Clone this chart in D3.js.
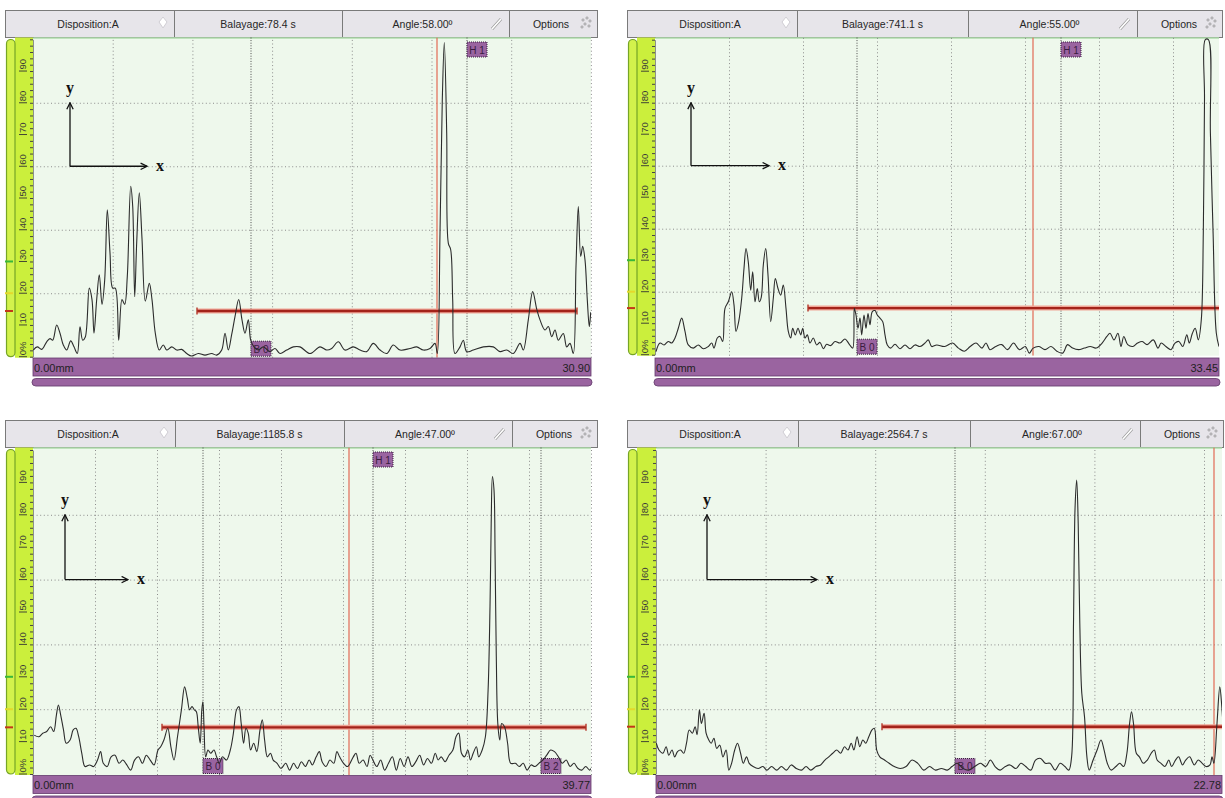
<!DOCTYPE html>
<html>
<head>
<meta charset="utf-8">
<script src="https://cdn.jsdelivr.net/npm/d3@7"></script>
<style>
  body { margin: 0; background: #fff; }
  svg { display: block; }
</style>
</head>
<body>
<script>
var headerFixed = ["Disposition:A", "Options"];
var sweeps = ["78.4 s", "741.1 s", "1185.8 s", "2564.7 s"];
var angles = ["58.00º", "55.00º", "47.00º", "67.00º"];
var ranges = ["30.90", "33.45", "39.77", "22.78"];
var ampGrid = [20, 40, 60, 80];
var ampLabels = [0, 10, 20, 30, 40, 50, 60, 70, 80, 90];
var curveMarks = [30, 20];               // green + yellow marks on the ruler
var gateLevel = [14.4, 14.8, 14.4, 14.6]; // % screen height
var gateSpan = [[164, 544], [153, 564], [129, 553], [226, 566]]; // samples
var cursorAt = [404, 378, 316, 558];
var gateMarks = [
  [["B 0", 218, "low"], ["H 1", 434, "high"]],
  [["B 0", 202, "low"], ["H 1", 406, "high"]],
  [["B 0", 170, "low"], ["H 1", 340, "high"], ["B 2", 508, "low"]],
  [["B 0", 299, "low"]]
];

// [sample, amplitude %]
var traceA = [[0.3,2.1],[4.3,3.1],[8.7,2.3],[13.7,4.7],[17,5.7],[19.7,5.2],[23.7,10],[27,7.4],[30.3,3.7],[33.7,2.1],[37.7,5],[41,3.1],[44.3,1],[47,9.4],[49.7,5.2],[52.3,6.2],[56.3,21.6],[59,18],[61,7.4],[63.7,18],[66.3,25.8],[69,16.5],[71.7,24.2],[74.3,46.3],[77,32.7],[79.7,21.6],[82.3,21.6],[85.7,5.2],[89,18],[91.7,16.5],[94.3,25.3],[97.7,53.7],[99.7,47.4],[101.7,18.9],[103.7,36],[106.3,51.6],[109,37.2],[112.3,17.5],[116.3,23.1],[119,18],[122.3,7.4],[126.3,2.1],[130.3,3.7],[133.7,2.1],[138.7,3.1],[143.7,2.1],[148.7,2.3],[153.7,1],[158.7,0.2],[165.3,1],[172,0.5],[178.7,1],[183.7,0.5],[188.7,2.1],[192,7.4],[195.3,2.1],[198.7,7],[202,12.6],[205.7,18],[209,11.6],[212,7.4],[215.3,11.6],[217.7,5.2],[221,3.1],[225.3,2.1],[230.3,3.1],[237,1.6],[242,2.6],[247,1],[253.7,2.1],[260.3,3.1],[267,3.1],[277,1],[287,3.1],[293.7,2.1],[298.7,2.6],[305.3,4.7],[312,2.1],[320.3,3.1],[327,2.1],[333.7,1.6],[340.3,4.2],[347,2.1],[353.7,1],[360.3,3.7],[367,2.1],[377,2.6],[383.7,3.1],[390.3,2.1],[397,2.6],[402,4.2],[404.3,1],[407,38.9],[409.3,81],[411.3,99],[413.7,70.5],[415.3,35.8],[417.7,33.7],[419.7,17.9],[422,1],[427,3.1],[430.3,5.2],[433.7,1.6],[440.3,2.1],[450.3,3.1],[460.3,3.1],[467,1.6],[473.7,2.1],[480.3,1],[487,4.2],[490.3,2.1],[495.3,11.6],[499.7,20.5],[503.7,15],[507,11.6],[512,8.4],[515.3,9.5],[518.7,6.3],[522,8.4],[525.3,5.2],[530.3,7.3],[533.7,3.1],[537,4.2],[540.3,1],[543,28.4],[545.3,47.3],[547.7,31.6],[549.7,34.8],[552,30.5],[554.3,17.9],[556.3,9.5],[557.7,14]];

var traceB = [[1,1],[5,3.7],[9,3.1],[13.3,4.2],[16.7,3.7],[20,5.3],[23.3,8.4],[26.7,11.6],[30,7.4],[33.3,3.1],[38.3,2.1],[43.3,3.1],[48.3,1.9],[53.3,2.6],[56.7,3.7],[59,2.1],[62.3,5.3],[65,5.8],[67.7,4.2],[70,14.7],[73.3,16.8],[76.7,20],[79,15.8],[81,7.4],[83.7,10.5],[86.7,17.9],[89,27.4],[91,33.7],[93.3,29.4],[95.7,20.5],[97.7,26.3],[100,16.8],[102.3,21],[104.3,16.8],[106.3,18.3],[108.3,28.4],[110.7,33.7],[113,25.3],[115.7,10.5],[118.3,17.9],[120.3,24.2],[123,21],[125.7,18.9],[128.3,22.1],[131,14.7],[133.3,7.4],[135.7,5.3],[137.7,8.4],[140.3,6.3],[143,8.4],[145.7,6.3],[147.7,8.4],[150,5.3],[152.3,6.3],[155,3.7],[158.3,5.3],[161.7,3.1],[165,3.9],[168.3,1.9],[171.7,3.3],[175.7,2.9],[180,4.2],[185,3.7],[190,5],[194.3,3.3],[197.7,2.1],[199.3,14.7],[201,12.6],[203,8.4],[205,11.6],[206.7,6.3],[209,12.6],[211,8.4],[213,13.1],[215,9.5],[217.3,13.7],[220,14],[222.3,12.6],[225,11.6],[227.7,10.5],[230,6.3],[232.3,3.1],[235.7,2.1],[240,3.3],[245,1.9],[250,3.1],[255,1.9],[260,3.1],[265,2.6],[270,3.7],[273.3,4.7],[276.7,2.6],[281.7,3.1],[289.6,2.6],[297.5,3.7],[303.4,2.1],[309.3,1.1],[315.2,2.6],[321.1,3.7],[327,2.1],[331,3.7],[334.9,1.6],[340.8,2.6],[346.7,3.2],[352.6,1.6],[358.5,3.7],[364.4,1.6],[370.4,2.6],[374.3,0.5],[378.2,2.1],[384.1,2.6],[390,1.6],[396,2.6],[401.9,1.1],[407.8,0.5],[412.5,3.2],[417.6,2.1],[423.5,1.6],[429.4,2.1],[435.3,2.6],[441.2,2.1],[447.1,3.7],[451.9,5.8],[455,6.8],[459,4.7],[462.9,6.8],[466,2.6],[468.8,5.8],[472.7,3.2],[477.8,2.6],[482.6,3.7],[487.3,4.2],[492.1,3.2],[498.3,4.7],[503,2.1],[506.2,3.7],[510.9,2.6],[516,1.6],[520,3.7],[523.9,4.2],[527.8,2.6],[531.8,6.3],[534.3,3.7],[537.4,6.8],[540.2,8.4],[543.3,4.7],[546.3,11.1],[548.3,38.6],[549.5,81],[550.3,100],[553.4,100],[555.4,70.4],[558.1,38.6],[561.3,6.9],[564,2.6]];

var traceC = [[1.2,12],[5.9,11.5],[9.8,12.6],[13.7,13.1],[17.6,14.6],[20.7,13.1],[23.4,18.2],[25.4,21.3],[27.7,18.2],[30.5,13.6],[33.2,9.5],[37.1,10.5],[40.2,13.6],[43,14.1],[45.7,11.5],[48.8,6.4],[52,2.3],[56.6,2.8],[60.6,2.3],[64.5,4.3],[67.6,6.9],[70.3,3.3],[74.2,2.3],[78.1,5.3],[82,5.8],[86,3.3],[89.8,4.3],[93.8,2.8],[97.7,1.2],[101.6,4.3],[105.5,5.3],[109.4,3.3],[113.3,5.8],[117.2,4.3],[121.1,2.8],[125,7.4],[127.7,8.4],[130.9,10.5],[134.8,14.1],[137.9,8.4],[141,4.3],[144.5,11.5],[148.4,19.8],[151.6,26.9],[154.3,23.4],[156.6,19.8],[159,20.8],[161.3,19.8],[163.3,19.3],[165.2,14.6],[167.2,9.5],[168.8,19.8],[169.9,22.3],[171.1,14],[172.7,5.3],[175,7.4],[177.7,6.4],[180.9,7.4],[183.6,5.3],[186.3,3.3],[189.5,5.3],[193.4,4.3],[197.3,7.4],[200.4,12.6],[203.5,19.8],[205.9,20.8],[208.2,15.6],[210.6,9.5],[212.9,14.1],[215.2,12.6],[217.6,7.4],[220.7,9.5],[223.8,6.9],[227,13.6],[229.3,16.7],[231.6,10.5],[234.4,5.3],[237.5,6.4],[240.2,4.3],[244.1,3.3],[248,1.7],[252.7,3.3],[256.6,1.2],[260.6,3.3],[264.5,1.7],[268.4,3.8],[272.3,2.3],[276.2,4.3],[279.3,2.8],[283.2,5.3],[286.3,6.9],[289.1,3.8],[293,2.3],[296.9,4.3],[300.8,3.3],[303.9,6.9],[306.6,5.3],[310.6,3.3],[314.5,2.3],[320.3,5.3],[323,6.4],[326.2,3.3],[330.1,4.3],[334,2.3],[337.1,5.8],[339.9,4.3],[343.8,2.3],[347.7,4.3],[351.6,1.2],[355.5,3.3],[359.4,5.3],[363.3,1.2],[367.2,4.8],[371.1,2.3],[375,5.3],[378.9,2.3],[382.8,3.8],[386.7,5.8],[390.6,2.8],[394.5,4.8],[398.4,3.3],[402.3,6.4],[405.1,4.3],[408.2,5.3],[412.1,3.8],[416,5.8],[419.9,7.4],[423,11.5],[425.8,12.6],[428.5,6.4],[431.6,5.3],[434.8,7.4],[437.5,4.3],[440.2,6.4],[443.4,8.4],[445.7,5.3],[449.2,7.4],[452.4,11.5],[455.1,25.9],[457,51.6],[458.2,77.4],[459.4,91.8],[461,87.7],[462.1,67.1],[463.3,36.2],[464.8,15.6],[466.8,10.5],[468.7,15.6],[471.5,14.6],[474.6,9.5],[477.7,3.3],[482.4,3.3],[486.3,2.3],[490.2,3.3],[494.1,1.2],[498,2.8],[502,2.3],[505.9,3.3],[509.8,4.3],[513.7,5.8],[517.6,7.4],[521.5,6.9],[525.4,5.3],[529.3,3.3],[533.2,4.3],[537.1,2.3],[541,3.3],[545,1.7],[548.8,1.2],[552.7,2.3],[556.6,1.2],[558,1.7]];

var traceD = [[0.3,9.5],[3,7.4],[6.9,6.4],[10.1,8.4],[12.8,5.8],[16,7.4],[18.7,5.3],[21.5,6.9],[24.6,7.4],[27.7,6.4],[30.5,9.5],[33.2,13.6],[36.4,12.6],[39.1,14.6],[41.1,12.1],[43.4,19.8],[45.4,15.6],[48.1,18.7],[50.1,12.6],[52.8,10.5],[55.2,9.5],[57.9,11],[60.7,7.9],[63.8,8.9],[66.9,5.3],[70.1,7.4],[72.8,1.2],[75.6,3.3],[78.7,7.4],[81.5,9.5],[84.6,6.4],[87.3,3.3],[90.5,5.3],[93.2,3.3],[97.1,2.3],[102.2,1.7],[106.9,2.3],[110.9,1.2],[115.6,2.3],[120.7,1.2],[125.4,2.3],[130.5,1.2],[135.2,2.8],[140.3,1.7],[145.4,1.2],[150.1,2.3],[154.8,1.2],[159.9,2.3],[164.6,2.8],[168.9,4.3],[172.8,5.3],[176.7,6.4],[180.7,7.4],[184.6,6.4],[188.5,8.4],[192,7.4],[195.2,9.5],[197.9,7.4],[201.1,11.5],[203.8,8.4],[206.9,10.5],[209.7,9.5],[212.8,11.5],[216,13.6],[218.3,14.1],[220.7,7.4],[223.8,5.3],[228.5,4.3],[233.2,3.3],[238.3,2.3],[244.2,1.7],[250.1,2.3],[256,4.3],[261.8,3.3],[267.7,1.2],[273.6,2.3],[279.5,1.2],[285.4,1.7],[291.3,1.2],[296,2.3],[301.1,3.3],[307,1.7],[312.8,1.2],[318.7,2.3],[324.6,3.3],[329.7,2.3],[334.4,4.3],[339.1,2.3],[344.2,1.2],[349.3,2.3],[354,2.8],[359.9,1.7],[365,3.3],[369.7,2.3],[374.8,1.2],[379.5,4.3],[384.6,4.8],[389.3,3.3],[394,3.3],[399.1,1.2],[404.2,3.3],[408.9,2.3],[412.8,1.2],[415.6,5.3],[417.5,46.5],[419.1,82.5],[420.7,90.7],[422.2,77.4],[423.8,46.5],[425.8,24.9],[428.5,17.7],[430.9,5.3],[433.2,1.2],[437.1,4.3],[441.1,7.4],[445,10.5],[448.1,7.4],[451.3,3.3],[455.2,1.2],[459.9,2.3],[463.8,3.3],[467.7,2.3],[470.9,6.4],[473.6,15.6],[475.5,19.2],[477.5,15.6],[480.3,6.4],[483.4,5.3],[487.3,3.3],[491.3,4.3],[495.2,6.4],[498.3,7.4],[501.1,4.3],[505,3.3],[508.9,2.3],[512.8,4.3],[515.6,2.3],[519.5,4.3],[522.6,5.3],[526.5,2.8],[529.7,4.3],[533.6,5.3],[538.3,2.8],[542.2,4.3],[546.2,3.3],[550.1,2.3],[554,2.8],[556,5.3],[557.9,3.3],[561,15.6],[563.8,26.9],[565.8,20.8],[567.7,11.5]];

var traces = [traceA, traceB, traceC, traceD];

// screen geometry of each capture
var panelGeo = [
  { hx: 5,   hy: 10,  hw: 592, cut: [169, 337, 504], pl: 33,  pr: 591,  top: 37.5,  y100: 39.3, y0: 356.7, bar: 358,   n: 558, div: 79.7,  sketch: [37, 114] },
  { hx: 627, hy: 10,  hw: 595, cut: [170, 341, 510], pl: 655, pr: 1219, top: 37.5,  y100: 39.7, y0: 354.7, bar: 358,   n: 564, div: 74,    sketch: [36, 114] },
  { hx: 5,   hy: 420, hw: 592, cut: [170, 339, 507], pl: 33,  pr: 591,  top: 447.5, y100: 450,  y0: 774,   bar: 775.5, n: 558, div: 62,    sketch: [32, 95] },
  { hx: 627, hy: 420, hw: 596, cut: [171, 343, 513], pl: 656, pr: 1222, top: 447.5, y100: 450,  y0: 774,   bar: 775.5, n: 566, div: 109.6, sketch: [51, 161] }
];

var svg = d3.select("body").append("svg")
  .attr("width", 1225)
  .attr("height", 798);

var defs = svg.append("defs");
defs.append("marker")
  .attr("id", "arr")
  .attr("viewBox", "0 0 10 10")
  .attr("refX", 9).attr("refY", 5)
  .attr("markerUnits", "userSpaceOnUse")
  .attr("markerWidth", 8).attr("markerHeight", 8)
  .attr("orient", "auto")
  .append("path")
  .attr("d", "M1,1 L9,5 L1,9")
  .attr("fill", "none")
  .attr("stroke", "#111")
  .attr("stroke-width", 1.6);

function drawPanel(i) {
  var P = panelGeo[i];
  var g = svg.append("g");
  var x = d3.scaleLinear().domain([0, P.n]).range([P.pl, P.pr]);
  var y = d3.scaleLinear().domain([0, 100]).range([P.y0, P.y100]);
  var hh = 27;

  // ---- header strip
  g.append("rect")
    .attr("x", P.hx + 0.5).attr("y", P.hy + 0.5)
    .attr("width", P.hw).attr("height", hh)
    .attr("fill", "#e7e5ea").attr("stroke", "#7a7a7a");
  g.selectAll(".cut").data(P.cut).join("line")
    .attr("x1", function(c) { return P.hx + c + 0.5; })
    .attr("x2", function(c) { return P.hx + c + 0.5; })
    .attr("y1", P.hy + 1).attr("y2", P.hy + hh)
    .attr("stroke", "#7a7a7a");
  var cx = [P.hx + 83, P.hx + (P.cut[0] + P.cut[1]) / 2, P.hx + (P.cut[1] + P.cut[2]) / 2 - 3, P.hx + P.cut[2] + 42];
  var heads = [headerFixed[0], "Balayage:" + sweeps[i], "Angle:" + angles[i], headerFixed[1]];
  g.selectAll(".hd").data(heads).join("text")
    .attr("x", function(d, k) { return cx[k]; })
    .attr("y", P.hy + 17.5)
    .attr("text-anchor", "middle")
    .attr("font-family", "Liberation Sans, Arial, sans-serif")
    .attr("font-size", "10.5px")
    .attr("fill", "#262626")
    .text(function(d) { return d; });

  // little header icons
  var dx = P.hx + P.cut[0] - 11, dy = P.hy + 13;
  g.append("path")
    .attr("d", "M" + dx + "," + (dy - 6) + " l4,5 l-4,6 l-4,-6z")
    .attr("fill", "#fff").attr("stroke", "#d0ced4");
  var px = P.hx + P.cut[2] - 12;
  g.append("line").attr("x1", px - 5).attr("y1", P.hy + 19).attr("x2", px + 4).attr("y2", P.hy + 9)
    .attr("stroke", "#9a9a9a").attr("stroke-width", 3);
  g.append("line").attr("x1", px - 5).attr("y1", P.hy + 19).attr("x2", px + 4).attr("y2", P.hy + 9)
    .attr("stroke", "#fff").attr("stroke-width", 1.6);
  var ox = P.hx + P.hw - 11, oy = P.hy + 13;
  [[-3, -3], [1, -5], [4, -2], [-1, 1], [3, 3], [-4, 4]].forEach(function(o) {
    g.append("circle").attr("cx", ox + o[0]).attr("cy", oy + o[1]).attr("r", 1.1)
      .attr("fill", "none").attr("stroke", "#8a8a8a").attr("stroke-width", 0.7);
  });

  // ---- amplitude ruler on the left
  var rl = P.hx + 10;
  g.append("rect")
    .attr("x", rl).attr("y", P.top)
    .attr("width", P.pl - rl).attr("height", P.y0 + 1 - P.top)
    .attr("fill", "#cbef3c");
  g.append("rect")
    .attr("x", P.hx + 1.5).attr("y", P.top + 2)
    .attr("width", 8.5).attr("height", P.y0 - P.top - 2)
    .attr("rx", 4.2)
    .attr("fill", "#d3f24c").attr("stroke", "#76a526").attr("stroke-width", 1.2);

  var minor = g.append("g")
    .attr("transform", "translate(" + P.pl + ",0)")
    .call(d3.axisLeft(y).tickValues(d3.range(0, 101, 2)).tickSize(3).tickSizeOuter(0).tickFormat(""));
  minor.select(".domain").attr("stroke", "#2b2b2b");
  minor.selectAll(".tick line").attr("stroke", "#444");

  g.selectAll(".maj").data(ampLabels).join("line")
    .attr("x1", rl + 4).attr("x2", rl + 12)
    .attr("y1", function(d) { return y(d); })
    .attr("y2", function(d) { return y(d); })
    .attr("stroke", "#333").attr("stroke-width", 0.9);
  g.selectAll(".rlab").data(ampLabels).join("text")
    .attr("transform", function(d) { return "translate(" + (rl + 8) + "," + (y(d) - 1.5) + ") rotate(-90)"; })
    .attr("text-anchor", "start")
    .attr("dy", "0.35em")
    .attr("font-family", "Liberation Sans, Arial, sans-serif")
    .attr("font-size", "9.5px")
    .attr("fill", "#3a3a3a")
    .text(function(d) { return d === 0 ? "0%" : d; });

  var marks = [[curveMarks[0], "#39b83a"], [curveMarks[1], "#e4d82c"], [gateLevel[i], "#c2381a"]];
  g.selectAll(".mk").data(marks).join("line")
    .attr("x1", P.hx).attr("x2", P.hx + 8)
    .attr("y1", function(d) { return y(d[0]); })
    .attr("y2", function(d) { return y(d[0]); })
    .attr("stroke", function(d) { return d[1]; })
    .attr("stroke-width", 2);

  // ---- screen
  g.append("rect")
    .attr("x", P.pl + 0.5).attr("y", P.top)
    .attr("width", P.pr - P.pl - 0.5).attr("height", P.y0 + 1 - P.top)
    .attr("fill", "#eef8ec");
  g.append("line")
    .attr("x1", P.pl).attr("x2", P.pr)
    .attr("y1", P.top + 0.5).attr("y2", P.top + 0.5)
    .attr("stroke", "#8fcf8c").attr("stroke-width", 1.2);

  var clipId = "clip" + i;
  defs.append("clipPath").attr("id", clipId)
    .append("rect")
    .attr("x", P.pl).attr("y", P.top)
    .attr("width", P.pr - P.pl).attr("height", P.y0 + 1 - P.top);

  var hg = g.append("g")
    .attr("transform", "translate(" + P.pl + ",0)")
    .call(d3.axisLeft(y).tickValues(ampGrid).tickSize(-(P.pr - P.pl)).tickFormat(""));
  hg.select(".domain").remove();
  hg.selectAll(".tick line").attr("stroke", "#8c8c8c").attr("stroke-dasharray", "1,2.6");

  var vg = g.append("g")
    .attr("transform", "translate(0," + (P.y0 + 1) + ")")
    .call(d3.axisBottom(x).tickValues(d3.range(P.div, P.n + 0.5, P.div)).tickSize(-(P.y0 + 1 - P.top)).tickFormat(""));
  vg.select(".domain").remove();
  vg.selectAll(".tick line").attr("stroke", "#8c8c8c").attr("stroke-dasharray", "1,2.6");

  // gate start lines + tags
  var gm = gateMarks[i];
  g.selectAll(".gl").data(gm).join("line")
    .attr("x1", function(d) { return x(d[1]); })
    .attr("x2", function(d) { return x(d[1]); })
    .attr("y1", P.top).attr("y2", P.y0 + 1)
    .attr("stroke", "#4a4a4a").attr("stroke-dasharray", "1,1.6");
  var tag = g.selectAll(".tag").data(gm).join("g")
    .attr("transform", function(d) {
      var ty = d[2] === "high" ? P.top + 4.5 : P.y0 - 15.5;
      return "translate(" + x(d[1]) + "," + ty + ")";
    });
  tag.append("rect")
    .attr("width", 20).attr("height", 15)
    .attr("fill", "#9a64a0")
    .attr("stroke", "#3b2040").attr("stroke-dasharray", "1,1");
  tag.append("text")
    .attr("x", 10).attr("y", 11.5)
    .attr("text-anchor", "middle")
    .attr("font-family", "Liberation Sans, Arial, sans-serif")
    .attr("font-size", "10px")
    .attr("fill", "#3a1c40")
    .text(function(d) { return d[0]; });

  // cursor
  g.append("line")
    .attr("x1", x(cursorAt[i])).attr("x2", x(cursorAt[i]))
    .attr("y1", P.top).attr("y2", P.y0 + 1)
    .attr("stroke", "#e26a55").attr("stroke-width", 1.2)
    .attr("clip-path", "url(#" + clipId + ")");

  // gate bar
  var gs = gateSpan[i], gy = y(gateLevel[i]);
  g.append("line")
    .attr("x1", x(gs[0])).attr("x2", x(gs[1]))
    .attr("y1", gy).attr("y2", gy)
    .attr("stroke", "#f0a596").attr("stroke-width", 5)
    .attr("clip-path", "url(#" + clipId + ")");
  g.append("line")
    .attr("x1", x(gs[0])).attr("x2", x(gs[1]))
    .attr("y1", gy).attr("y2", gy)
    .attr("stroke", "#a3231a").attr("stroke-width", 2.4)
    .attr("clip-path", "url(#" + clipId + ")");
  gs.forEach(function(s) {
    if (s < P.n - 2) {
      g.append("line")
        .attr("x1", x(s)).attr("x2", x(s))
        .attr("y1", gy - 3.5).attr("y2", gy + 3.5)
        .attr("stroke", "#b3372a").attr("stroke-width", 1.4);
    }
  });

  // echo trace
  var line = d3.line()
    .x(function(d) { return x(d[0]); })
    .y(function(d) { return y(d[1]); })
    .curve(d3.curveCatmullRom.alpha(0.5));
  g.append("path")
    .datum(traces[i])
    .attr("d", line)
    .attr("fill", "none")
    .attr("stroke", "#2c2c2c")
    .attr("stroke-width", 1.1)
    .attr("stroke-linejoin", "round")
    .attr("clip-path", "url(#" + clipId + ")");

  // x / y sketch
  var s0 = x(P.sketch[0]), s1 = x(P.sketch[1]);
  g.append("line")
    .attr("x1", s0).attr("y1", y(60)).attr("x2", s0).attr("y2", y(80))
    .attr("stroke", "#111").attr("stroke-width", 1.3)
    .attr("marker-end", "url(#arr)");
  g.append("line")
    .attr("x1", s0).attr("y1", y(60)).attr("x2", s1).attr("y2", y(60))
    .attr("stroke", "#111").attr("stroke-width", 1.3)
    .attr("marker-end", "url(#arr)");
  g.append("text")
    .attr("x", s0).attr("y", y(83))
    .attr("text-anchor", "middle")
    .attr("font-family", "Liberation Serif, Times New Roman, serif")
    .attr("font-weight", "bold")
    .attr("font-size", "16px")
    .attr("fill", "#111")
    .text("y");
  g.append("text")
    .attr("x", s1 + 9).attr("y", y(60) + 4.5)
    .attr("font-family", "Liberation Serif, Times New Roman, serif")
    .attr("font-weight", "bold")
    .attr("font-size", "16px")
    .attr("fill", "#111")
    .text("x");

  // ---- range bar + scroll bar
  g.append("rect")
    .attr("x", P.pl).attr("y", P.bar)
    .attr("width", P.pr - P.pl).attr("height", 18)
    .attr("fill", "#9a64a0").attr("stroke", "#62396a").attr("stroke-width", 0.8);
  g.append("text")
    .attr("x", P.pl + 1).attr("y", P.bar + 13.5)
    .attr("font-family", "Liberation Sans, Arial, sans-serif")
    .attr("font-size", "11px")
    .attr("fill", "#1f1f1f")
    .text("0.00mm");
  g.append("text")
    .attr("x", P.pr - 1).attr("y", P.bar + 13.5)
    .attr("text-anchor", "end")
    .attr("font-family", "Liberation Sans, Arial, sans-serif")
    .attr("font-size", "11px")
    .attr("fill", "#1f1f1f")
    .text(ranges[i]);
  g.append("rect")
    .attr("x", P.pl - 1).attr("y", P.bar + 20.5)
    .attr("width", P.pr - P.pl + 2).attr("height", 7.5)
    .attr("rx", 3.8)
    .attr("fill", "#9a64a0").attr("stroke", "#6a4272").attr("stroke-width", 0.9);
}

for (var i = 0; i < 4; i++) drawPanel(i);
</script>
</body>
</html>
